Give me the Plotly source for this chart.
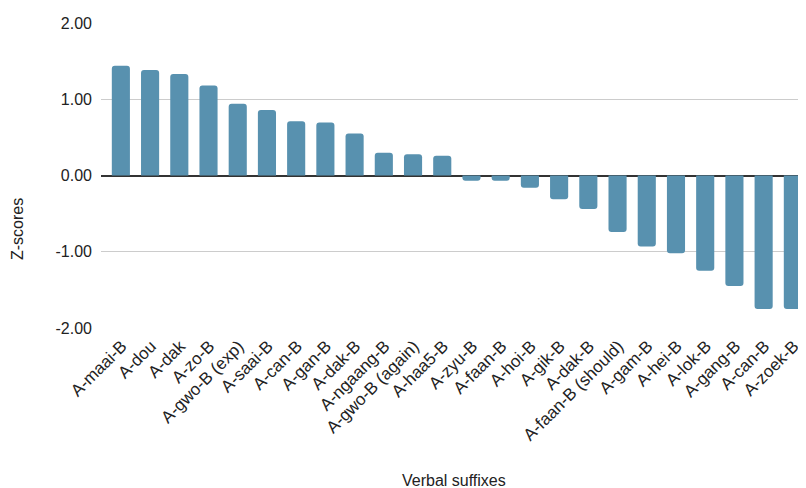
import plotly.graph_objects as go

categories = ["A-maai-B", "A-dou", "A-dak", "A-zo-B", "A-gwo-B (exp)", "A-saai-B",
              "A-can-B", "A-gan-B", "A-dak-B", "A-ngaang-B", "A-gwo-B (again)", "A-haa5-B",
              "A-zyu-B", "A-faan-B", "A-hoi-B", "A-gik-B", "A-dak-B", "A-faan-B (should)",
              "A-gam-B", "A-hei-B", "A-lok-B", "A-gang-B", "A-can-B", "A-zoek-B"]
zscores = [1.44, 1.385, 1.33, 1.18, 0.94, 0.86, 0.71, 0.695, 0.55, 0.30, 0.28, 0.26,
           -0.07, -0.07, -0.16, -0.31, -0.44, -0.74, -0.93, -1.02, -1.25, -1.45, -1.75, -1.75]
y_ticks = [-2, -1, 0, 1, 2]
y_tick_labels = ["-2.00", "-1.00", "0.00", "1.00", "2.00"]

positions = list(range(len(categories)))

# page body has an 8px margin; size the figure so the visible frame matches 806x488
W, H = 798, 480
L, R, T, B = 93, 0, 15, 160
plot_h = H - T - B
plot_w = W - L - R

fig = go.Figure(go.Bar(
    x=positions, y=zscores,
    marker=dict(color="#5891AF", cornerradius=3, line=dict(width=0)),
    width=0.62,
))

fig.update_layout(
    width=W, height=H,
    margin=dict(l=L, r=R, t=T, b=B),
    plot_bgcolor="white", paper_bgcolor="white",
    font=dict(family="Liberation Sans, Arial, sans-serif", size=16, color="#222222"),
    showlegend=False,
    xaxis=dict(
        tickmode="array", tickvals=positions, ticktext=categories,
        tickangle=-45, range=[-0.68, 23.45], showgrid=False, zeroline=False,
        showline=False, ticks="", automargin=False, tickfont=dict(size=17),
        ticklabelstandoff=4, ticklabelshift=1,
    ),
    yaxis=dict(
        tickmode="array", tickvals=y_ticks, ticktext=y_tick_labels,
        range=[-2, 2], showgrid=True, gridcolor="#cccccc", gridwidth=1,
        zeroline=True, zerolinecolor="#333333", zerolinewidth=1.5,
        showline=False, ticks="", automargin=False, tickfont=dict(size=16),
        ticklabelstandoff=8,
    ),
    annotations=[
        dict(text="Verbal suffixes", x=0.5, xref="paper",
             y=(H - B - (480 - 8)) / plot_h, yref="paper", yanchor="middle",
             showarrow=False, font=dict(size=16)),
        dict(text="Z-scores", textangle=-90, x=(17 - 8 - L) / plot_w, xref="paper",
             y=1 - ((229 - 8) - T) / plot_h, yref="paper", xanchor="center", yanchor="middle",
             showarrow=False, font=dict(size=16)),
    ],
)

fig.write_html("out.html")
